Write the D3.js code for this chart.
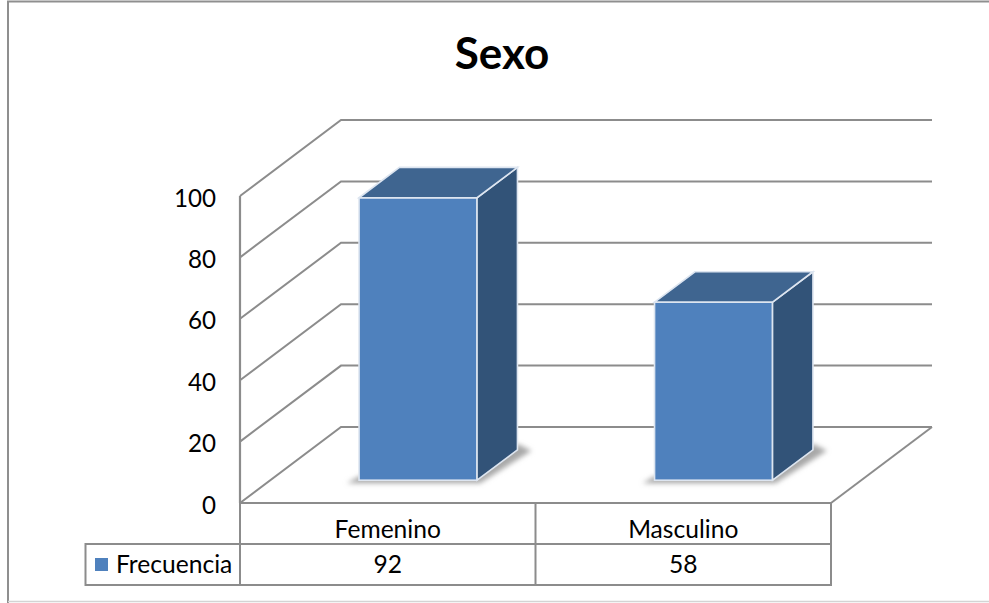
<!DOCTYPE html>
<html><head><meta charset="utf-8">
<script src="https://cdn.jsdelivr.net/npm/d3@7"></script>
<style>html,body{margin:0;padding:0;background:#fff}svg{display:block}text{font-family:Lato,"Open Sans",sans-serif;fill:#000}</style>
</head><body><svg id="c" width="989" height="603"></svg>
<script>
const title = "Sexo";
const categories = ["Femenino", "Masculino"];
const seriesName = "Frecuencia";
const values = [92, 58];
const ticks = [0, 20, 40, 60, 80, 100];

const svg = d3.select("#c");
const GRID = "#8c8c8c";
const y = d3.scaleLinear().domain([0, 100]).range([503, 196]);
const x = d3.scaleBand().domain(categories).range([240, 831]);
const wallDx = 101, wallDy = -76;
const barDepth = 0.4, barOffset = 0.30, barWidth = 118;

svg.append("path").attr("d", "M8,603V1.5H989").attr("fill", "none").attr("stroke", "#8f8f8f").attr("stroke-width", 2);
svg.append("line").attr("x1", 8).attr("x2", 989).attr("y1", 601.5).attr("y2", 601.5).attr("stroke", "#d4d4d4").attr("stroke-width", 1.5);

const g = svg.append("g");
ticks.forEach(t => {
  const p = d3.path();
  p.moveTo(240, y(t)); p.lineTo(240 + wallDx, y(t) + wallDy);
  p.lineTo(831 + wallDx, y(t) + wallDy);
  g.append("path").attr("d", p.toString()).attr("fill", "none").attr("stroke", GRID).attr("stroke-width", 2);
});
g.append("line").attr("x1", 831).attr("y1", y(0)).attr("x2", 831 + wallDx).attr("y2", y(0) + wallDy).attr("stroke", GRID).attr("stroke-width", 2);
g.append("line").attr("x1", 240).attr("y1", y(100)).attr("x2", 240).attr("y2", y(0)).attr("stroke", GRID).attr("stroke-width", 2.2);

const defs = svg.append("defs");
const blur = defs.append("filter").attr("id", "sh").attr("x", "-20%").attr("y", "-20%").attr("width", "140%").attr("height", "140%");
blur.append("feGaussianBlur").attr("stdDeviation", 2.6);

const dx = wallDx * barDepth, dy = wallDy * barDepth;
const base = y(0) + wallDy * barOffset;
const EDGE = "#dde5f0";
categories.forEach((c, i) => {
  const cx = x(c) + x.bandwidth() / 2 + wallDx * barOffset;
  const l = cx - barWidth / 2, r = cx + barWidth / 2;
  const top = y(values[i]) + wallDy * barOffset;
  svg.append("path")
    .attr("d", `M${l - 12},${base + 3}L${r + 3},${base + 3}L${r + dx + 14},${base + dy + 1}L${r + dx},${base + dy - 6}L${r},${base - 4}L${l},${base - 4}Z`)
    .attr("fill", "#a8a8a8").attr("filter", "url(#sh)");
  svg.append("rect").attr("x", l).attr("y", top).attr("width", barWidth).attr("height", base - top)
    .attr("fill", "#4f81bd").attr("stroke", EDGE).attr("stroke-width", 1.6);
  svg.append("path").attr("d", `M${r},${top}L${r + dx},${top + dy}V${base + dy}L${r},${base}Z`)
    .attr("fill", "#325378").attr("stroke", EDGE).attr("stroke-width", 1.6);
  svg.append("path").attr("d", `M${l},${top}L${l + dx},${top + dy}H${r + dx}L${r},${top}Z`)
    .attr("fill", "#3f6590").attr("stroke", EDGE).attr("stroke-width", 1.6);
});

ticks.forEach(t => svg.append("text").attr("x", 216).attr("y", y(t) + 10.5).attr("text-anchor", "end").attr("font-size", 24.2).text(t));

const rowA = 503, rowB = 544, rowC = 585, legL = 85.5;
const tbl = svg.append("g").attr("stroke", GRID).attr("stroke-width", 2).attr("fill", "none");
tbl.append("path").attr("d", `M240,${rowA}H831V${rowC}H${legL}V${rowB}H831`);
tbl.append("path").attr("d", `M240,${rowA}V${rowC}M${x(categories[1])},${rowA}V${rowC}`);

categories.forEach((c, i) => {
  const mx = x(c) + x.bandwidth() / 2;
  svg.append("text").attr("x", mx).attr("y", 538).attr("text-anchor", "middle").attr("font-size", 24.6).text(c);
  svg.append("text").attr("x", mx).attr("y", 573).attr("text-anchor", "middle").attr("font-size", 24.6).text(values[i]);
});
svg.append("rect").attr("x", 95).attr("y", 558).attr("width", 13).attr("height", 13).attr("fill", "#4f81bd");
svg.append("text").attr("x", 116).attr("y", 573).attr("font-size", 24.6).text(seriesName);

svg.append("text").attr("x", 502).attr("y", 69).attr("text-anchor", "middle").attr("font-size", 44).attr("font-weight", 700).text(title);
</script></body></html>
